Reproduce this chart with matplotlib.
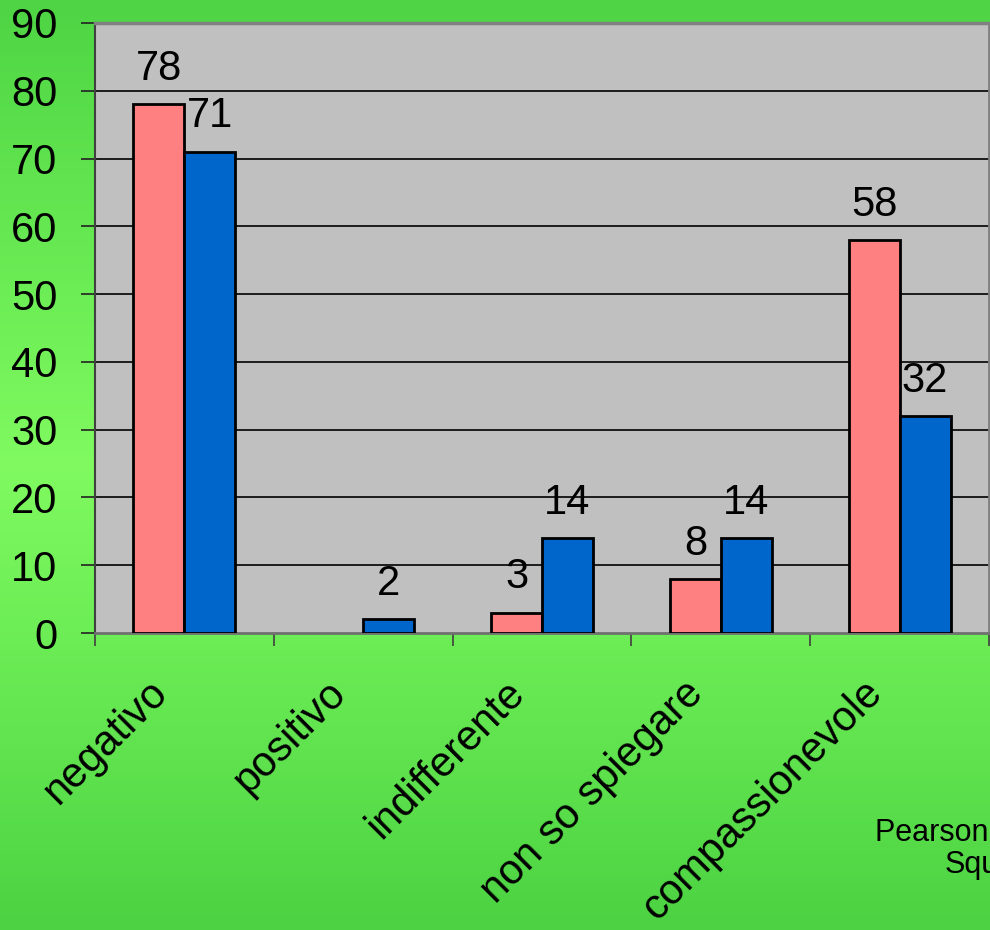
import matplotlib

matplotlib.use("Agg")
import matplotlib.pyplot as plt
import numpy as np
from matplotlib.colors import LinearSegmentedColormap

plt.rcParams["font.family"] = ["Liberation Sans", "DejaVu Sans"]

categories = ["negativo", "positivo", "indifferente", "non so spiegare", "compassionevole"]
group_a = [78, 0, 3, 8, 58]
group_b = [71, 2, 14, 14, 32]
yticks = list(range(0, 100, 10))

PINK, BLUE, PLOT_BG = "#FF8080", "#0066CC", "#C0C0C0"

fig = plt.figure(figsize=(9.9, 9.3), dpi=100)

# green slide background: dark at top/bottom, lighter band around the middle
bg = fig.add_axes([0, 0, 1, 1], zorder=-10)
grad = LinearSegmentedColormap.from_list(
    "slide", ["#4ED444", "#66E852", "#80FA60", "#66E852", "#4CD242"])
bg.imshow(np.linspace(0, 1, 256).reshape(-1, 1), aspect="auto", cmap=grad,
          extent=[0, 1, 0, 1], origin="upper")
bg.set_axis_off()

ax = fig.add_axes([95 / 990, 1 - 633 / 930, 894 / 990, 610 / 930])
ax.set_facecolor(PLOT_BG)

x = np.arange(len(categories)) + 0.5
w = 0.285
bars_a = ax.bar(x - w / 2, group_a, w, color=PINK, edgecolor="black", lw=2.0, zorder=3)
bars_b = ax.bar(x + w / 2, group_b, w, color=BLUE, edgecolor="black", lw=2.0, zorder=3)
for bars, vals in ((bars_a, group_a), (bars_b, group_b)):
    for b, v in zip(bars, vals):
        if v == 0:
            b.set_visible(False)
            continue
        ax.annotate(f"{v}", (b.get_x() + b.get_width() / 2, v), xytext=(0, 11),
                    textcoords="offset points", ha="center", va="bottom",
                    fontsize=30, zorder=5)

ax.set_xlim(0, len(categories))
ax.set_ylim(0, 90)
ax.set_yticks(yticks)
ax.tick_params(axis="y", labelsize=30, length=10, width=1.2, pad=17, color="#222222")
ax.set_xticks(np.arange(len(categories) + 1))
ax.set_xticklabels([])
ax.tick_params(axis="x", length=9, width=1.2, color="#404040")
for yv in yticks[1:-1]:
    ax.axhline(yv, color="black", lw=1.2, zorder=1)

for name, c, lw in (("top", "#808080", 2.5), ("right", "#808080", 2.0),
                    ("bottom", "#707070", 2.0), ("left", "#404040", 1.5)):
    ax.spines[name].set_color(c)
    ax.spines[name].set_linewidth(lw)

# rotated category names hanging below the axis
for xi, name in zip(x, categories):
    ax.annotate(name, (xi, 0), xycoords=("data", "axes fraction"),
                xytext=(-17, -39), textcoords="offset points",
                rotation=45, rotation_mode="anchor", ha="right", va="center",
                fontsize=30, annotation_clip=False)

fig.text(875 / 990, 1 - 833 / 930, "Pearson Chi-", fontsize=22, ha="left", va="center")
fig.text(945 / 990, 1 - 865 / 930, "Square", fontsize=22, ha="left", va="center")

fig.savefig("out.png", dpi=100)
